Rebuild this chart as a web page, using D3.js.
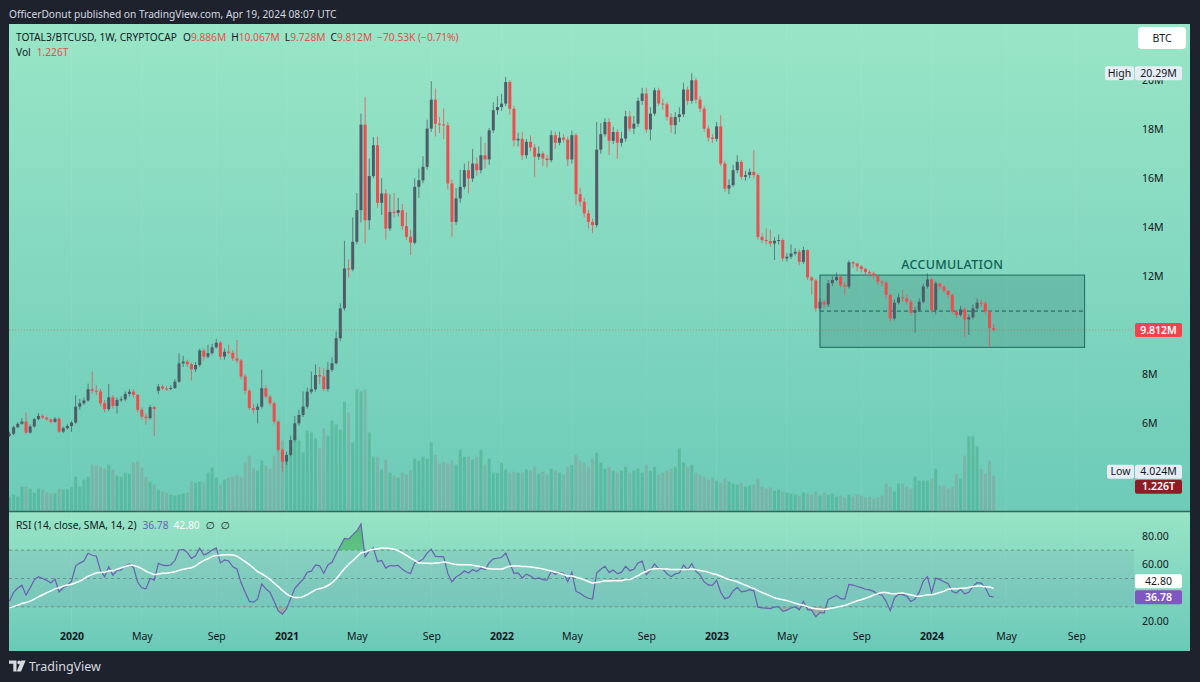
<!DOCTYPE html>
<html>
<head>
<meta charset="utf-8">
<script src="https://cdn.jsdelivr.net/npm/d3@7"></script>
<style>
  body { margin: 0; background: #1e222d; }
  svg { display: block; }
</style>
</head>
<body>
<div id="chart"></div>
<script>
const FONT = "'Noto Sans', 'DejaVu Sans', sans-serif";

// TOTAL3/BTCUSD weekly, first visible bar = week of 2019-09-23 (values in millions)
const firstWeek = "2019-09-23";
const close = [
  5.57, 5.84, 5.98, 6.07, 5.62, 5.87, 6.17, 6.30, 6.23, 6.16,
  6.06, 6.19, 5.66, 5.80, 5.89, 6.03, 6.68, 6.82, 6.93, 7.39,
  7.33, 7.30, 6.82, 6.58, 7.06, 6.71, 6.95, 6.98, 7.20, 7.29,
  7.16, 6.55, 6.27, 6.21, 6.66, 6.58, 7.50, 7.42, 7.40, 7.44,
  7.70, 8.45, 8.52, 8.41, 8.20, 8.38, 8.97, 8.72, 8.86, 9.10,
  9.29, 8.72, 8.92, 8.88, 8.65, 8.56, 7.91, 7.33, 6.62, 6.55,
  6.68, 7.43, 7.09, 6.82, 6.07, 4.92, 4.44, 4.71, 5.32, 6.00,
  6.34, 6.68, 7.29, 7.39, 7.97, 7.91, 7.40, 8.18, 8.45, 9.47,
  10.69, 12.32, 12.28, 13.41, 14.70, 18.19, 14.29, 16.09, 17.35, 15.00,
  15.38, 13.95, 14.63, 14.59, 14.70, 14.05, 13.61, 13.37, 15.65, 15.92,
  16.47, 18.03, 19.21, 18.23, 18.20, 18.16, 15.79, 14.22, 15.18, 15.65,
  16.33, 15.99, 16.60, 16.33, 16.94, 16.77, 17.96, 18.78, 18.91, 19.05,
  19.93, 18.84, 17.55, 17.61, 16.94, 17.49, 17.26, 16.88, 17.01, 16.81,
  16.74, 17.76, 17.45, 17.66, 17.58, 16.77, 17.76, 15.35, 15.04, 14.57,
  14.22, 14.09, 17.17, 17.80, 18.30, 17.53, 17.89, 17.45, 17.62, 18.53,
  18.03, 18.23, 19.16, 19.46, 17.99, 18.64, 19.59, 19.05, 19.02, 18.50,
  18.17, 18.50, 18.61, 19.62, 19.16, 20.00, 19.21, 18.84, 18.03, 17.66,
  17.61, 18.12, 16.60, 15.58, 15.72, 16.33, 16.67, 16.06, 16.13, 16.26,
  16.13, 13.61, 13.48, 13.44, 13.34, 13.45, 13.48, 12.73, 12.80, 12.93,
  13.00, 12.59, 13.07, 11.95, 11.83, 10.69, 10.96, 10.85, 11.72, 11.85,
  11.98, 11.64, 11.58, 12.57, 12.52, 12.40, 12.30, 12.17, 12.12, 12.01,
  11.78, 11.74, 11.24, 10.28, 10.92, 11.14, 11.10, 10.96, 10.51, 10.62,
  10.96, 11.58, 11.87, 10.62, 11.71, 11.58, 11.41, 11.24, 10.56, 10.42,
  10.65, 10.24, 10.33, 10.69, 10.92, 10.89, 10.56, 9.886, 9.812
];
const high = [
  5.66, 5.90, 6.05, 6.21, 6.44, 5.95, 6.22, 6.42, 6.36, 6.28,
  6.20, 6.25, 6.24, 5.86, 5.96, 6.10, 7.15, 7.00, 7.05, 7.62,
  8.11, 7.55, 7.40, 6.95, 7.60, 7.15, 7.05, 7.10, 7.30, 7.40,
  7.38, 7.20, 6.65, 6.40, 6.75, 6.72, 7.60, 7.58, 7.52, 7.55,
  7.80, 8.86, 8.75, 8.60, 8.48, 8.50, 9.05, 9.05, 9.20, 9.25,
  9.45, 9.35, 9.05, 9.20, 8.98, 9.40, 8.62, 8.00, 7.40, 6.80,
  6.80, 8.18, 7.55, 7.15, 6.90, 6.12, 4.98, 4.85, 5.50, 6.30,
  6.55, 7.30, 7.45, 8.11, 8.40, 8.30, 8.25, 8.50, 8.70, 9.75,
  10.90, 13.45, 12.70, 14.40, 15.40, 18.64, 19.32, 16.80, 17.69, 17.70,
  16.00, 15.55, 15.35, 15.40, 15.20, 14.95, 14.60, 13.90, 16.00, 16.40,
  16.90, 18.40, 19.97, 19.66, 18.50, 18.85, 18.30, 15.95, 15.60, 16.35,
  16.60, 16.70, 17.20, 16.85, 17.70, 17.45, 18.05, 19.10, 19.35, 19.45,
  20.14, 20.00, 18.95, 17.85, 17.90, 17.60, 17.75, 17.40, 17.30, 17.10,
  16.95, 17.95, 17.90, 17.90, 17.80, 17.70, 17.95, 17.85, 15.60, 15.20,
  14.70, 14.35, 18.30, 18.25, 18.45, 18.45, 18.10, 18.00, 17.90, 18.75,
  18.75, 18.55, 19.30, 19.70, 19.70, 18.90, 19.70, 19.70, 19.25, 19.10,
  18.65, 18.70, 18.90, 19.90, 19.75, 20.29, 20.10, 19.35, 18.95, 18.15,
  17.80, 18.30, 18.57, 16.70, 15.95, 16.55, 16.95, 16.75, 16.30, 16.40,
  17.15, 16.20, 13.75, 13.95, 13.90, 13.60, 13.70, 13.55, 12.95, 13.30,
  13.15, 13.10, 13.20, 13.10, 12.00, 11.90, 11.10, 11.05, 11.85, 12.00,
  12.15, 12.05, 11.75, 12.65, 12.62, 12.55, 12.45, 12.35, 12.25, 12.20,
  12.05, 11.85, 11.80, 11.30, 11.05, 11.30, 11.45, 11.25, 11.05, 10.75,
  11.10, 11.70, 12.12, 11.95, 11.80, 11.75, 11.65, 11.45, 11.30, 10.60,
  10.80, 10.75, 10.45, 10.85, 11.10, 11.05, 11.00, 10.60, 10.067
];
const low = [
  5.45, 5.52, 5.80, 5.94, 5.55, 5.58, 5.82, 6.12, 6.18, 6.10,
  6.00, 6.02, 5.60, 5.60, 5.74, 5.65, 5.98, 6.55, 6.75, 6.88,
  7.20, 7.15, 6.70, 6.45, 6.50, 6.60, 6.40, 6.88, 6.90, 7.10,
  7.05, 6.45, 6.15, 5.94, 6.15, 5.49, 7.20, 7.36, 7.32, 7.35,
  7.40, 7.65, 8.30, 8.30, 7.75, 8.10, 8.30, 8.55, 8.65, 8.80,
  9.05, 8.60, 8.60, 8.80, 8.55, 8.45, 7.80, 7.20, 6.55, 6.40,
  6.00, 6.60, 7.00, 6.70, 5.95, 4.85, 4.024, 4.30, 4.65, 5.25,
  5.90, 6.25, 6.60, 7.20, 7.30, 7.60, 7.30, 7.30, 8.10, 8.40,
  9.35, 10.60, 11.95, 12.20, 13.30, 14.20, 13.34, 13.90, 16.00, 14.80,
  14.50, 13.50, 13.85, 14.40, 14.45, 13.90, 13.50, 12.87, 13.30, 15.20,
  15.80, 16.35, 17.90, 17.70, 17.85, 17.60, 15.55, 13.61, 14.10, 15.00,
  15.55, 15.40, 15.85, 16.10, 16.20, 16.40, 16.55, 17.85, 18.60, 18.75,
  18.95, 18.60, 17.30, 17.30, 16.75, 16.80, 17.10, 16.06, 16.75, 16.50,
  16.45, 16.65, 17.20, 17.35, 17.45, 16.50, 16.60, 14.90, 14.85, 14.40,
  13.95, 13.77, 14.00, 17.00, 17.70, 16.95, 17.40, 16.80, 17.30, 17.50,
  17.90, 17.80, 18.10, 19.00, 17.85, 17.55, 18.55, 18.95, 18.80, 18.35,
  17.85, 17.80, 18.30, 18.50, 19.00, 19.05, 19.05, 18.70, 17.90, 17.50,
  17.45, 17.50, 16.50, 15.45, 15.35, 15.65, 16.20, 15.95, 15.90, 16.00,
  16.00, 13.50, 13.35, 13.30, 13.20, 12.66, 13.30, 12.60, 12.60, 12.70,
  12.85, 12.45, 12.50, 11.85, 11.25, 10.55, 10.60, 10.70, 10.75, 11.60,
  11.80, 11.55, 11.25, 11.50, 12.35, 12.20, 12.15, 12.05, 12.00, 11.90,
  11.65, 11.60, 11.10, 10.15, 10.20, 10.85, 10.95, 10.85, 10.40, 9.70,
  10.55, 10.90, 11.50, 10.50, 10.45, 11.45, 11.30, 11.10, 10.45, 10.30,
  10.35, 9.51, 9.60, 10.25, 10.60, 10.75, 10.45, 9.10, 9.728
];
// opens follow the previous close, except where the picture shows a gap
const gapOpens = [[0, 5.50], [36, 7.33]];
// volume in trillions
const volume = [
  0.49, 0.56, 0.49, 0.84, 0.84, 0.77, 0.63, 0.77, 0.74, 0.63,
  0.60, 0.60, 0.77, 0.74, 0.74, 0.84, 1.19, 0.84, 1.09, 1.19,
  1.61, 1.58, 1.54, 1.47, 1.61, 1.44, 1.23, 1.19, 1.33, 1.30,
  1.68, 1.72, 1.51, 1.19, 1.02, 0.91, 0.74, 0.67, 0.63, 0.56,
  0.53, 0.56, 0.60, 0.63, 1.02, 0.98, 1.02, 0.98, 1.33, 1.51,
  1.16, 0.91, 1.09, 1.16, 1.19, 1.26, 1.19, 1.68, 1.93, 1.51,
  1.40, 1.75, 1.58, 1.47, 1.93, 2.18, 2.46, 1.75, 2.11, 2.63,
  2.46, 2.04, 2.81, 2.74, 2.53, 2.18, 2.88, 2.63, 3.16, 3.02,
  2.84, 3.82, 3.44, 2.39, 4.25, 4.18, 4.25, 2.74, 1.89, 1.89,
  1.44, 1.79, 1.33, 1.23, 1.16, 1.33, 1.26, 1.40, 1.82, 1.75,
  1.89, 1.82, 2.39, 1.96, 1.65, 1.72, 1.65, 1.75, 1.61, 2.14,
  1.89, 1.89, 1.79, 1.89, 2.14, 1.61, 1.82, 1.33, 1.33, 1.68,
  1.44, 1.33, 1.37, 1.33, 1.33, 1.44, 1.40, 1.54, 1.30, 1.37,
  1.26, 1.47, 1.40, 1.33, 1.26, 1.54, 1.61, 1.96, 1.75, 1.68,
  1.54, 1.82, 2.04, 1.68, 1.47, 1.54, 1.40, 1.33, 1.40, 1.54,
  1.33, 1.40, 1.47, 1.33, 1.61, 1.40, 1.54, 1.26, 1.33, 1.40,
  1.47, 1.54, 2.18, 1.68, 1.54, 1.61, 1.33, 1.26, 1.19, 1.09,
  1.16, 1.05, 0.98, 1.12, 1.02, 0.95, 0.91, 0.98, 0.84, 0.88,
  0.91, 1.12, 0.84, 0.77, 0.81, 0.70, 0.74, 0.67, 0.63, 0.60,
  0.56, 0.53, 0.63, 0.60, 0.56, 0.67, 0.53, 0.63, 0.56, 0.60,
  0.49, 0.53, 0.46, 0.56, 0.49, 0.56, 0.53, 0.46, 0.49, 0.42,
  0.46, 0.53, 0.95, 0.84, 0.67, 0.95, 0.95, 0.84, 0.77, 1.19,
  1.05, 1.05, 1.05, 1.12, 1.47, 0.88, 0.88, 0.77, 0.84, 1.30,
  1.12, 1.93, 2.60, 2.60, 2.25, 1.47, 1.30, 1.75, 1.226
];

// axis labels that are not hidden behind a price tag in the picture
const priceTicks = [6, 8, 12, 14, 16, 18, 20];
const rsiTicks = [20, 60, 80];
const timeTicks = [
  ["2020", "2020-01-06"], ["May", "2020-05-04"], ["Sep", "2020-09-07"],
  ["2021", "2021-01-04"], ["May", "2021-05-03"], ["Sep", "2021-09-06"],
  ["2022", "2022-01-03"], ["May", "2022-05-02"], ["Sep", "2022-09-05"],
  ["2023", "2023-01-02"], ["May", "2023-05-01"], ["Sep", "2023-09-04"],
  ["2024", "2024-01-01"], ["May", "2024-05-06"], ["Sep", "2024-09-02"]
];

// accumulation range drawn on the chart
const zoneDates = ["2023-06-26", "2024-09-16"];
const zonePrices = [9.10, 12.05];
const zoneMid = 10.58;

const rsiStart = 34, maStart = 29;
const rsiLast = 36.78, maLast = 42.80;
const lastPrice = 9.812, highPrice = 20.29, lowPrice = 4.024, lastVol = 1.226;

// ---------------------------------------------------------------
const parse = d3.utcParse("%Y-%m-%d");
const t0 = parse(firstWeek);
const dates = close.map((_, i) => d3.utcDay.offset(t0, 7 * i));
const open = close.map((_, i) => i > 0 ? close[i - 1] : close[0]);
gapOpens.forEach(([i, v]) => open[i] = v);

const bars = close.map((c, i) => ({
  date: dates[i], o: open[i], h: high[i], l: low[i], c: c, v: volume[i], up: c >= open[i]
}));

const plotL = 9, plotR = 1134;
const x = d3.scaleUtc().domain([t0, parse("2024-09-16")]).range([9.5, 9.5 + 260 * 4.135]);
const y = d3.scaleLinear().domain([6, 18]).range([423.3, 129.3]);
const yVol = d3.scaleLinear().domain([0, lastVol]).range([510.7, 475.7]);
const yR = d3.scaleLinear().domain([20, 80]).range([621, 536]);

// RSI(14) on close with Wilder smoothing, SMA(14) on top
function rsiSeries(c) {
  const m = d3.mean(d3.range(1, 15), i => Math.abs(c[i] - c[i - 1]));
  let up = m * rsiStart / 100, dn = m * (100 - rsiStart) / 100;
  const out = [rsiStart];
  for (let i = 1; i < c.length; i++) {
    const ch = c[i] - c[i - 1];
    up = (up * 13 + Math.max(ch, 0)) / 14;
    dn = (dn * 13 + Math.max(-ch, 0)) / 14;
    out.push(100 - 100 / (1 + up / dn));
  }
  return out;
}
const rsi = rsiSeries(close);
const rsiMa = rsi.map((_, i) => {
  const win = rsi.slice(Math.max(0, i - 13), i + 1);
  return (d3.sum(win) + maStart * (14 - win.length)) / 14;
});

const UP = "#4e5c67", DOWN = "#ee4d4f", RED_TXT = "#e5504c", DARK = "#131722";

const svg = d3.select("#chart").append("svg")
  .attr("width", 1200).attr("height", 682)
  .attr("font-family", FONT);

const defs = svg.append("defs");
function vGrad(id, stops) {
  const g = defs.append("linearGradient").attr("id", id)
    .attr("x1", 0).attr("x2", 0).attr("y1", 0).attr("y2", 1);
  stops.forEach(([o, c, a]) => g.append("stop").attr("offset", o).attr("stop-color", c).attr("stop-opacity", a == null ? 1 : a));
}
vGrad("mainBg", [["0%", "#99e5c7"], ["100%", "#6dcbb8"]]);
vGrad("rsiBg", [["0%", "#98e4c6"], ["100%", "#6bc9b8"]]);
vGrad("obFill", [["0%", "#3fae5c", 0.75], ["100%", "#3fae5c", 0.15]]);
defs.append("clipPath").attr("id", "mainClip").append("rect")
  .attr("x", plotL).attr("y", 24).attr("width", plotR - plotL).attr("height", 487);
defs.append("clipPath").attr("id", "rsiClip").append("rect")
  .attr("x", plotL).attr("y", 513).attr("width", plotR - plotL).attr("height", 138);
defs.append("clipPath").attr("id", "obClip").append("rect")
  .attr("x", plotL).attr("y", 513).attr("width", plotR - plotL).attr("height", yR(70) - 513);
defs.append("clipPath").attr("id", "osClip").append("rect")
  .attr("x", plotL).attr("y", yR(30)).attr("width", plotR - plotL).attr("height", 651 - yR(30));

// panes
svg.append("rect").attr("width", 1200).attr("height", 682).attr("fill", "#1e222d");
svg.append("rect").attr("x", 9).attr("y", 24).attr("width", 1181).attr("height", 487).attr("fill", "url(#mainBg)");
svg.append("rect").attr("x", 9).attr("y", 512).attr("width", 1181).attr("height", 139).attr("fill", "url(#rsiBg)");
svg.append("line").attr("x1", 9).attr("x2", 1190).attr("y1", 511.5).attr("y2", 511.5)
  .attr("stroke", "#3f6159").attr("stroke-width", 1.5);

// faint vertical grid at the time ticks
const tickDates = timeTicks.map(d => parse(d[1]));
svg.append("g").selectAll("line").data(tickDates).join("line")
  .attr("x1", d => x(d)).attr("x2", d => x(d)).attr("y1", 24).attr("y2", 630)
  .attr("stroke", "rgba(255,255,255,0.07)");

// ---------------- main pane
const main = svg.append("g").attr("clip-path", "url(#mainClip)");

// accumulation zone
const zx0 = x(parse(zoneDates[0])), zx1 = x(parse(zoneDates[1]));
main.append("rect")
  .attr("x", zx0).attr("y", y(zonePrices[1]))
  .attr("width", zx1 - zx0).attr("height", y(zonePrices[0]) - y(zonePrices[1]))
  .attr("fill", "rgba(24,98,88,0.22)").attr("stroke", "#1f6a60").attr("stroke-width", 1);
main.append("line")
  .attr("x1", zx0).attr("x2", zx1).attr("y1", y(zoneMid)).attr("y2", y(zoneMid))
  .attr("stroke", "#1c5c54").attr("stroke-dasharray", "4,3");
main.append("text")
  .attr("x", x(dates[228])).attr("y", y(zonePrices[1]) - 6)
  .attr("text-anchor", "middle").attr("font-size", 12.5).attr("font-weight", 500)
  .attr("letter-spacing", 0.3).attr("fill", "#125e55").text("ACCUMULATION");

// volume
main.append("g").selectAll("rect").data(bars).join("rect")
  .attr("x", d => x(d.date) - 1.5).attr("width", 3)
  .attr("y", d => yVol(d.v)).attr("height", d => yVol(0) - yVol(d.v))
  .attr("fill", d => d.up ? "rgba(50,155,115,0.36)" : "rgba(150,125,125,0.30)");

// last-price line
main.append("line").attr("x1", plotL).attr("x2", plotR)
  .attr("y1", y(lastPrice)).attr("y2", y(lastPrice))
  .attr("stroke", "#e2524e").attr("stroke-opacity", 0.55).attr("stroke-dasharray", "1,2");

// candles
const candle = main.append("g").selectAll("g").data(bars).join("g");
candle.append("line")
  .attr("x1", d => x(d.date)).attr("x2", d => x(d.date))
  .attr("y1", d => y(d.h)).attr("y2", d => y(d.l))
  .attr("stroke", d => d.up ? UP : DOWN).attr("stroke-opacity", 0.75).attr("stroke-width", 1);
candle.append("rect")
  .attr("x", d => x(d.date) - 1.5).attr("width", 3)
  .attr("y", d => y(Math.max(d.o, d.c)))
  .attr("height", d => Math.max(1, Math.abs(y(d.o) - y(d.c))))
  .attr("fill", d => d.up ? UP : DOWN);

// price axis
svg.append("g").attr("transform", "translate(1142,0)")
  .call(d3.axisRight(y).tickValues(priceTicks).tickSize(0).tickPadding(0).tickFormat(d => d + "M"))
  .call(g => g.select(".domain").remove())
  .attr("font-family", FONT).attr("font-size", 10.5).attr("color", DARK);

// ---------------- RSI pane
const rp = svg.append("g").attr("clip-path", "url(#rsiClip)");
rp.append("rect").attr("x", plotL).attr("width", plotR - plotL)
  .attr("y", yR(70)).attr("height", yR(30) - yR(70)).attr("fill", "rgba(105,85,175,0.09)");
rp.append("g").selectAll("line").data([70, 50, 30]).join("line")
  .attr("x1", plotL).attr("x2", plotR).attr("y1", d => yR(d)).attr("y2", d => yR(d))
  .attr("stroke", "#66837f").attr("stroke-opacity", 0.8).attr("stroke-dasharray", "3,3");

const rsiPts = bars.map((d, i) => ({ date: d.date, r: rsi[i], m: rsiMa[i] }));
rp.append("path").datum(rsiPts).attr("clip-path", "url(#obClip)")
  .attr("d", d3.area().x(d => x(d.date)).y0(yR(70)).y1(d => yR(d.r)))
  .attr("fill", "url(#obFill)");
rp.append("path").datum(rsiPts).attr("clip-path", "url(#osClip)")
  .attr("d", d3.area().x(d => x(d.date)).y0(yR(30)).y1(d => yR(d.r)))
  .attr("fill", "rgba(235,80,80,0.25)");
rp.append("path").datum(rsiPts)
  .attr("d", d3.line().x(d => x(d.date)).y(d => yR(d.r)))
  .attr("fill", "none").attr("stroke", "#6a5fb2").attr("stroke-width", 1.2);
rp.append("path").datum(rsiPts)
  .attr("d", d3.line().curve(d3.curveMonotoneX).x(d => x(d.date)).y(d => yR(d.m)))
  .attr("fill", "none").attr("stroke", "#ffffff").attr("stroke-width", 1.5);

svg.append("g").attr("transform", "translate(1142,0)")
  .call(d3.axisRight(yR).tickValues(rsiTicks).tickSize(0).tickPadding(0).tickFormat(d3.format(".2f")))
  .call(g => g.select(".domain").remove())
  .attr("font-family", FONT).attr("font-size", 10.5).attr("color", DARK);

// time axis
const tickLabel = new Map(timeTicks.map(d => [+parse(d[1]), d[0]]));
svg.append("g").attr("transform", "translate(0,633)")
  .call(d3.axisBottom(x).tickValues(tickDates).tickSize(0).tickPadding(0).tickFormat(d => tickLabel.get(+d)))
  .call(g => g.select(".domain").remove())
  .attr("font-family", FONT).attr("font-size", 10.5).attr("color", DARK)
  .selectAll("text").attr("font-weight", d => /^\d/.test(tickLabel.get(+d)) ? 700 : 400);

// ---------------- price tags
function tag(x0, yc, w, txt, bg, fg, bold) {
  svg.append("rect").attr("x", x0).attr("y", yc - 7).attr("width", w).attr("height", 14)
    .attr("rx", 2).attr("fill", bg);
  svg.append("text").attr("x", x0 + w / 2).attr("y", yc).attr("dy", "0.36em")
    .attr("text-anchor", "middle").attr("font-size", 10.5)
    .attr("font-weight", bold ? 600 : 400).attr("fill", fg).text(txt);
}
tag(1105, y(highPrice), 29, "High", "#e6edf5", DARK);
tag(1135, y(highPrice), 47, "20.29M", "#e6edf5", DARK);
tag(1135, y(lastPrice), 47, "9.812M", "#f0434c", "#ffffff", true);
tag(1107, y(lowPrice), 27, "Low", "#e6edf5", DARK);
tag(1135, y(lowPrice), 47, "4.024M", "#e6edf5", DARK);
tag(1135, Math.max(yVol(lastVol), y(lowPrice) + 15), 47, "1.226T", "#8b1e24", "#ffffff", true);
const maY = yR(maLast), rsiY = yR(rsiLast);
tag(1135, Math.min(maY, rsiY - 16), 47, maLast.toFixed(2), "#ffffff", DARK);
tag(1135, rsiY, 47, rsiLast.toFixed(2), "#7e57c2", "#ffffff", true);

// BTC button
svg.append("rect").attr("x", 1138).attr("y", 27).attr("width", 48).attr("height", 22)
  .attr("rx", 4).attr("fill", "#ffffff");
svg.append("text").attr("x", 1162).attr("y", 38).attr("dy", "0.36em").attr("text-anchor", "middle")
  .attr("font-size", 10.5).attr("fill", DARK).text("BTC");

// ---------------- headers
svg.append("text").attr("x", 9).attr("y", 17.5).attr("font-size", 10.2).attr("fill", "#d6d9e0")
  .text("OfficerDonut published on TradingView.com, Apr 19, 2024 08:07 UTC");

// legend rows flow as tspans: [text, colour, gap before]
function legendRow(yPos, parts, size) {
  const t = svg.append("text").attr("x", 16).attr("y", yPos).attr("font-size", size);
  t.selectAll("tspan").data(parts).join("tspan")
    .attr("dx", d => d[2]).attr("fill", d => d[1]).text(d => d[0]);
}
legendRow(41, [
  ["TOTAL3/BTCUSD, 1W, CRYPTOCAP", DARK, 0], ["O", DARK, 6], ["9.886M", RED_TXT, 0],
  ["H", DARK, 5], ["10.067M", RED_TXT, 0], ["L", DARK, 5], ["9.728M", RED_TXT, 0],
  ["C", DARK, 5], ["9.812M", RED_TXT, 0], ["\u221270.53K (\u22120.71%)", RED_TXT, 5]
], 10.2);
legendRow(56, [["Vol", DARK, 0], ["1.226T", RED_TXT, 6]], 10.2);
legendRow(529, [
  ["RSI (14, close, SMA, 14, 2)", DARK, 0], [rsiLast.toFixed(2), "#6a5fb2", 6],
  [maLast.toFixed(2), "#ffffff", 5], ["\u2205", DARK, 6], ["\u2205", DARK, 6]
], 10.2);

// TradingView mark
const logo = svg.append("g").attr("fill", "#d6d9e0");
logo.append("path").attr("d", "M9,660.5 h7.5 v11 h-3.2 v-7.8 h-4.3 z");
logo.append("circle").attr("cx", 19.2).attr("cy", 662.4).attr("r", 1.9);
logo.append("path").attr("d", "M21.2,660.5 h4.4 l-4.6,11 h-4.3 z");
svg.append("text").attr("x", 29).attr("y", 670.5).attr("font-size", 12.5).attr("fill", "#d6d9e0")
  .text("TradingView");
</script>
</body>
</html>
